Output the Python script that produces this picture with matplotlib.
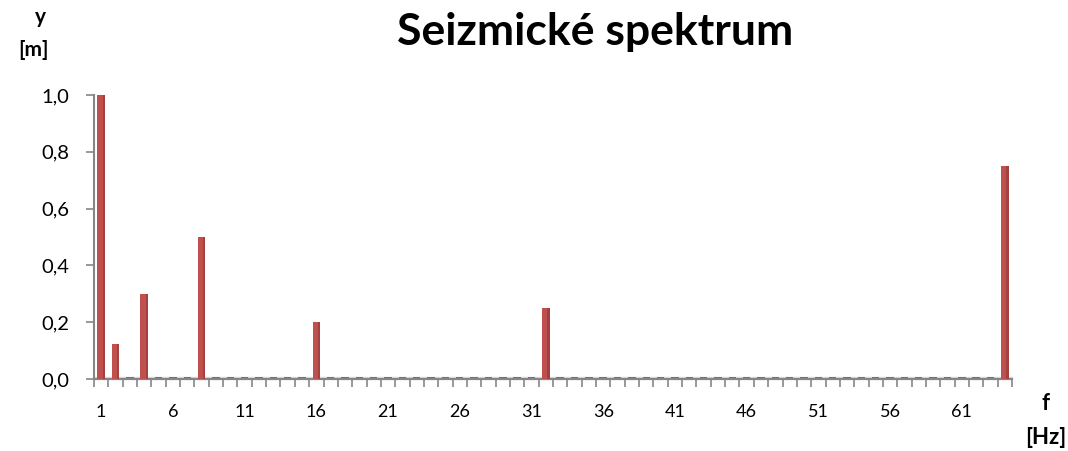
import matplotlib
matplotlib.use("Agg")
import matplotlib.pyplot as plt
import numpy as np

freqs = list(range(1, 65))
values = [0.0] * 64
peaks = {1: 1.0, 2: 0.125, 4: 0.3, 8: 0.5, 16: 0.2, 32: 0.25, 64: 0.75}
for k, v in peaks.items():
    values[k - 1] = v
yticks = [0.0, 0.2, 0.4, 0.6, 0.8, 1.0]
ytick_labels = ["0,0", "0,2", "0,4", "0,6", "0,8", "1,0"]
xtick_cats = [1, 6, 11, 16, 21, 26, 31, 36, 41, 46, 51, 56, 61]
title = "Seizmické spektrum"

plt.rcParams['font.family'] = ['Lato', 'DejaVu Sans']

fig = plt.figure(figsize=(10.68, 4.51), dpi=100)
ax = fig.add_axes([94/1068, 1-379/451, (1012-94)/1068, (379-95)/451])

x = np.array(freqs, dtype=float)
v = np.array(values)
bw = 0.52
face = "#C0504D"
side = "#8E3431"
ax.axhspan(0, 0.008, color="#D9D9D9", zorder=1, clip_on=False)
ax.bar(x, [0.006] * len(x), width=bw, color=face, zorder=2, linewidth=0)
ax.bar(x, v, width=bw, color=face, zorder=3, linewidth=0)
ax.bar(x + bw * 0.35, v, width=bw * 0.3, color=side, zorder=3, linewidth=0, alpha=0.55)

ax.set_xlim(0.5, 64.5)
ax.set_ylim(0, 1.0)
for s in ["top", "right"]:
    ax.spines[s].set_visible(False)
for s in ["left", "bottom"]:
    ax.spines[s].set_color("#868686")
    ax.spines[s].set_linewidth(1.5)
ax.set_yticks(yticks)
ax.set_yticklabels(ytick_labels, fontsize=14.5)
ax.set_xticks(xtick_cats)
ax.set_xticklabels([str(c) for c in xtick_cats], fontsize=13)
ax.tick_params(axis="x", length=0, pad=18)
ax.tick_params(axis="y", length=6, color="#868686", width=1.2, pad=12)
ax.set_xticks(np.arange(0.5, 65, 1.0), minor=True)
ax.tick_params(axis="x", which="minor", length=6, color="#868686", width=1.2, direction="out")

fig.text(595/1068, 1-32/451, title, ha="center", va="center", fontsize=32, fontweight="bold")
fig.text(40/1068, 1-17/451, "y", ha="center", va="center", fontsize=15, fontweight="bold")
fig.text(33/1068, 1-50/451, "[m]", ha="center", va="center", fontsize=15, fontweight="bold")
fig.text(1045/1068, 1-404/451, "f", ha="center", va="center", fontsize=16, fontweight="bold")
fig.text(1046/1068, 1-437/451, "[Hz]", ha="center", va="center", fontsize=16, fontweight="bold")

fig.savefig("out.png", dpi=100)
